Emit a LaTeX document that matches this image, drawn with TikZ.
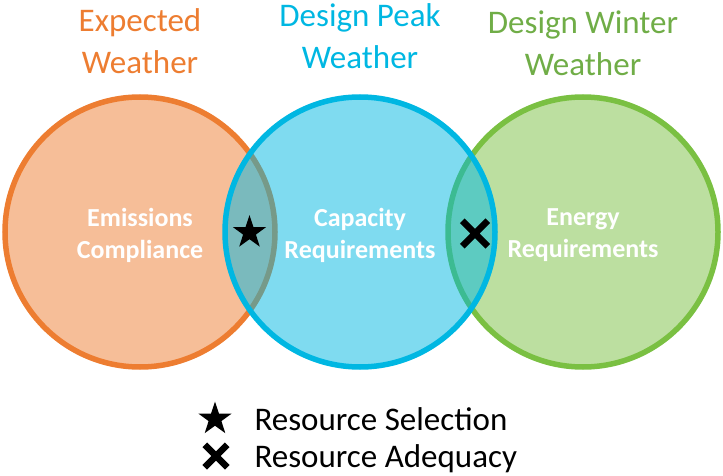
\documentclass[tikz,border=0pt]{standalone}
\usepackage{fontspec}
\setmainfont{Carlito}
\usetikzlibrary{shapes.geometric,shapes.misc}
\definecolor{orng}{RGB}{237,125,49}
\definecolor{blu}{RGB}{0,183,226}
\definecolor{grn}{RGB}{122,192,66}
\definecolor{grntxt}{RGB}{112,173,71}
\tikzset{
  venn/.style={circle, minimum size=270pt, inner sep=0pt, line width=5.5pt, fill opacity=0.5, draw opacity=1},
  title/.style={align=center, font=\fontsize{33}{42}\selectfont},
  inner/.style={align=center, text=white, font=\fontsize{26}{32}\selectfont\bfseries},
  starmark/.style={star, star points=5, star point ratio=2.6, fill=black, inner sep=0pt},
  xmark/.style={cross out, draw=black, line width=6.5pt, inner sep=0pt},
  legend/.style={anchor=base west, font=\fontsize{33}{40}\selectfont}
}
\begin{document}
\begin{tikzpicture}[x=1pt,y=1pt]
\useasboundingbox (0,0) rectangle (723,475);
\node[venn, draw=orng, fill=orng] (c1) at (140,243) {};
\node[venn, draw=grn, fill=grn] (c3) at (583,243) {};
\node[venn, draw=blu, fill=blu] (c2) at (360,243) {};
\node[title, text=orng] (t1) at (140,434) {Expected\\Weather};
\node[title, text=blu] (t2) at (360,439) {Design Peak\\Weather};
\node[title, text=grntxt] (t3) at (583,432) {Design Winter\\Weather};
\node[inner] (i1) at (140,240) {Emissions\\Compliance};
\node[inner] (i2) at (360,240) {Capacity\\Requirements};
\node[inner] (i3) at (583,240) {Energy\\Requirements};
\node[starmark, minimum size=35pt] (s1) at (249.5,242.5) {};
\node[xmark, minimum size=19pt] (x1) at (475,241.5) {};
\node[starmark, minimum size=35pt] (s2) at (215,56) {};
\node[xmark, minimum size=16pt] (x2) at (216,19) {};
\node[legend] (l1) at (251,45) {Resource Selection};
\node[legend] (l2) at (251,8) {Resource Adequacy};
\end{tikzpicture}
\end{document}
